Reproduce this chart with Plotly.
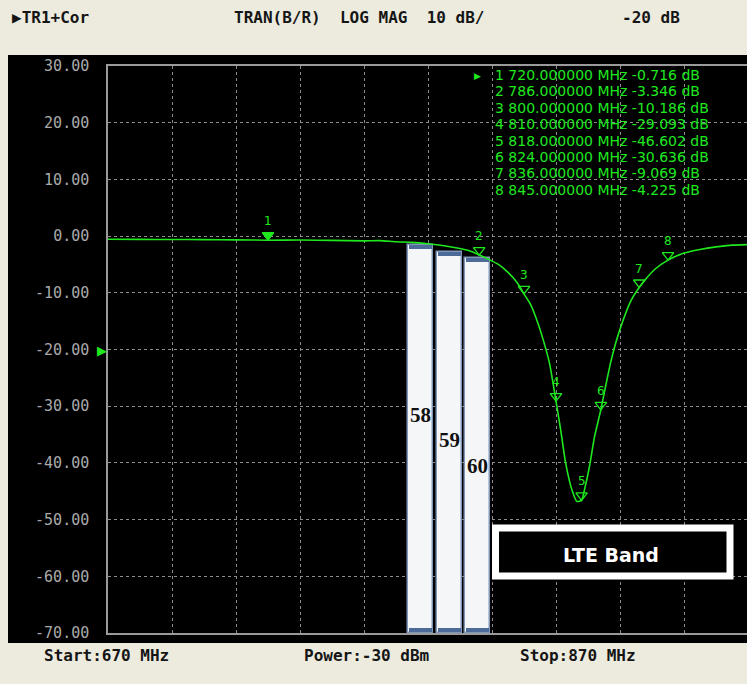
import plotly.graph_objects as go

# ---------------- data ----------------
freq_mhz = [670, 680, 690, 700, 710, 720, 730, 740, 750, 755, 760, 765, 770, 775, 780,
            784, 786, 789, 792, 795, 798, 800, 802, 804, 806, 808, 810, 811.5, 813, 815,
            816.5, 818, 819, 820.5, 822, 824, 825.5, 827, 829, 831, 833.5, 836, 838, 841,
            845, 850, 855, 860, 865, 870]
trace_db = [-0.55, -0.58, -0.6, -0.62, -0.66, -0.72, -0.7, -0.75, -0.85, -0.8, -1.0, -1.1,
            -1.35, -1.7, -2.2, -2.8, -3.35, -4.1, -5.0, -6.4, -8.3, -10.19, -12.0, -14.8,
            -18.3, -22.5, -29.09, -34.3, -40.0, -44.8, -46.8, -46.6, -44.5, -40.5, -35.5,
            -30.64, -26.5, -22.5, -18.2, -14.8, -11.3, -9.07, -7.6, -5.8, -4.23, -3.0,
            -2.35, -1.9, -1.6, -1.5]

marker_ids = ["1", "2", "3", "4", "5", "6", "7", "8"]
marker_freq = [720, 786, 800, 810, 818, 824, 836, 845]
marker_db = [-0.716, -3.346, -10.186, -29.093, -46.602, -30.636, -9.069, -4.225]

channel_labels = ["58", "59", "60"]
channel_lo = [763.75, 772.8, 781.6]
channel_hi = [771.6, 780.6, 789.4]
channel_top_db = [-1.6, -2.8, -3.9]
channel_label_db = [-31.5, -36.0, -40.5]
floor_db = -70

y_tick_vals = [30, 20, 10, 0, -10, -20, -30, -40, -50, -60, -70]
y_tick_text = ["30.00", "20.00", "10.00", "0.00", "-10.00", "-20.00", "-30.00",
               "-40.00", "-50.00", "-60.00", "-70.00"]

header_left = "▶TR1+Cor"
header_mid = "TRAN(B/R)  LOG MAG  10 dB/"
header_ref = "-20 dB"
footer_start = "Start:670 MHz"
footer_power = "Power:-30 dBm"
footer_stop = "Stop:870 MHz"
ref_level_db = -20
band_label = "LTE Band"

# ---------------- layout helpers ----------------
W, H = 747, 684
L, T, B = 108, 66, 51
PW, PH = W - L, H - T - B


def px(x):
    return (x - L) / PW


def py(y):
    return (H - B - y) / PH


GREEN = "#1fe81f"
BG = "#ecebde"

fig = go.Figure()

# channel bars
centers = [(a + b) / 2 for a, b in zip(channel_lo, channel_hi)]
widths = [b - a for a, b in zip(channel_lo, channel_hi)]
heights = [t - floor_db for t in channel_top_db]
fig.add_trace(go.Bar(x=centers, y=heights, base=floor_db, width=widths,
                     marker=dict(color="#f5f6f8", line=dict(color="#8097b9", width=1.5)),
                     hoverinfo="skip", showlegend=False))
strip = 0.7
fig.add_trace(go.Bar(x=centers, y=[strip] * 3, base=[t - strip for t in channel_top_db],
                     width=[w - 0.6 for w in widths],
                     marker=dict(color="#4d6b98", line=dict(width=0)),
                     hoverinfo="skip", showlegend=False))
fig.add_trace(go.Bar(x=centers, y=[strip] * 3, base=floor_db + 0.2,
                     width=[w - 0.6 for w in widths],
                     marker=dict(color="#4d6b98", line=dict(width=0)),
                     hoverinfo="skip", showlegend=False))

# measured trace
fig.add_trace(go.Scatter(x=freq_mhz, y=trace_db, mode="lines",
                         line=dict(color=GREEN, width=1.6, shape="spline", smoothing=0.5),
                         hoverinfo="skip", showlegend=False))

# markers
symbols = ["triangle-up"] + ["triangle-up-open"] * (len(marker_ids) - 1)
fig.add_trace(go.Scatter(x=marker_freq, y=marker_db, mode="markers",
                         marker=dict(symbol=symbols, size=10, color=GREEN, angle=180,
                                     standoff=5, line=dict(color=GREEN, width=1.3)),
                         hoverinfo="skip", showlegend=False, cliponaxis=False))
for mid, f, d in zip(marker_ids, marker_freq, marker_db):
    fig.add_annotation(x=f, y=d, text=mid, showarrow=False, yshift=19,
                       xanchor="center", yanchor="middle",
                       font=dict(family="DejaVu Sans", size=12, color=GREEN))

# channel numbers
for lab, c, d in zip(channel_labels, centers, channel_label_db):
    fig.add_annotation(x=c, y=d, text="<b>%s</b>" % lab, showarrow=False,
                       xanchor="center", yanchor="middle",
                       font=dict(family="Liberation Serif", size=21, color="#111111"))

# marker readout list
for i, (mid, f, d) in enumerate(zip(marker_ids, marker_freq, marker_db)):
    txt = "%s %.6f MHz %.3f dB" % (mid, f, d)
    fig.add_annotation(xref="paper", yref="paper", x=px(494), y=py(75 + i * 16.4),
                       xanchor="left", yanchor="middle", text=txt, showarrow=False,
                       borderpad=0,
                       font=dict(family="DejaVu Sans", size=14, color=GREEN))
fig.add_annotation(xref="paper", yref="paper", x=px(477), y=py(75), text="▶",
                   xanchor="center", yanchor="middle",
                   showarrow=False, font=dict(size=9, color=GREEN))

# reference level pointer
fig.add_annotation(xref="paper", yref="y", x=px(109), y=ref_level_db, xanchor="right",
                   yanchor="middle", text="▶", showarrow=False,
                   font=dict(size=13, color=GREEN))

# header / footer
hdr_font = dict(family="DejaVu Sans Mono", size=16, color="#151515")
for x, txt in [(10, header_left), (232, header_mid), (620, header_ref)]:
    fig.add_annotation(xref="paper", yref="paper", x=px(x), y=py(17), xanchor="left",
                       yanchor="middle",
                       text="<b>%s</b>" % txt.replace(" ", "&nbsp;"), showarrow=False,
                       font=hdr_font)
for x, txt in [(42, footer_start), (302, footer_power), (518, footer_stop)]:
    fig.add_annotation(xref="paper", yref="paper", x=px(x), y=py(655), xanchor="left",
                       yanchor="middle", text="<b>%s</b>" % txt, showarrow=False,
                       font=hdr_font)

# black screen area
fig.add_shape(type="rect", xref="paper", yref="paper", x0=px(8), x1=px(W + 5),
              y0=py(643), y1=py(55), fillcolor="black", line=dict(width=0), layer="below")

# LTE band box
fig.add_shape(type="rect", xref="paper", yref="paper", x0=px(495.5), x1=px(730),
              y0=py(576), y1=py(528), fillcolor="black", line=dict(color="white", width=7))
fig.add_annotation(xref="paper", yref="paper", x=px(611), y=py(555),
                   xanchor="center", yanchor="middle",
                   text="<b>%s</b>" % band_label, showarrow=False,
                   font=dict(family="DejaVu Sans", size=19, color="white"))

fig.update_layout(
    width=W, height=H, margin=dict(l=L, r=0, t=T, b=B),
    paper_bgcolor=BG, plot_bgcolor="black", barmode="overlay", bargap=0,
    xaxis=dict(range=[670, 670 + PW / 3.2], tick0=670, dtick=20, showticklabels=False,
               ticks="", showgrid=True, gridcolor="#8c8c8c", griddash="dot", gridwidth=1,
               zeroline=False, showline=True, linecolor="#9a9a9a", linewidth=1.5,
               mirror=True),
    yaxis=dict(range=[-70, 30], tickvals=y_tick_vals, ticktext=y_tick_text, ticks="",
               ticklabelstandoff=14, showgrid=True, gridcolor="#8c8c8c", griddash="dot",
               gridwidth=1, zeroline=False, showline=True, linecolor="#9a9a9a",
               linewidth=1.5, tickfont=dict(family="DejaVu Sans Mono", size=15,
                                            color="#aaaaaa")),
)

fig.write_html("out.html",
               config={"displayModeBar": False},
               post_script="document.body.style.margin='0';"
                           "document.body.style.overflow='hidden';"
                           "document.body.style.background='%s';" % BG)
